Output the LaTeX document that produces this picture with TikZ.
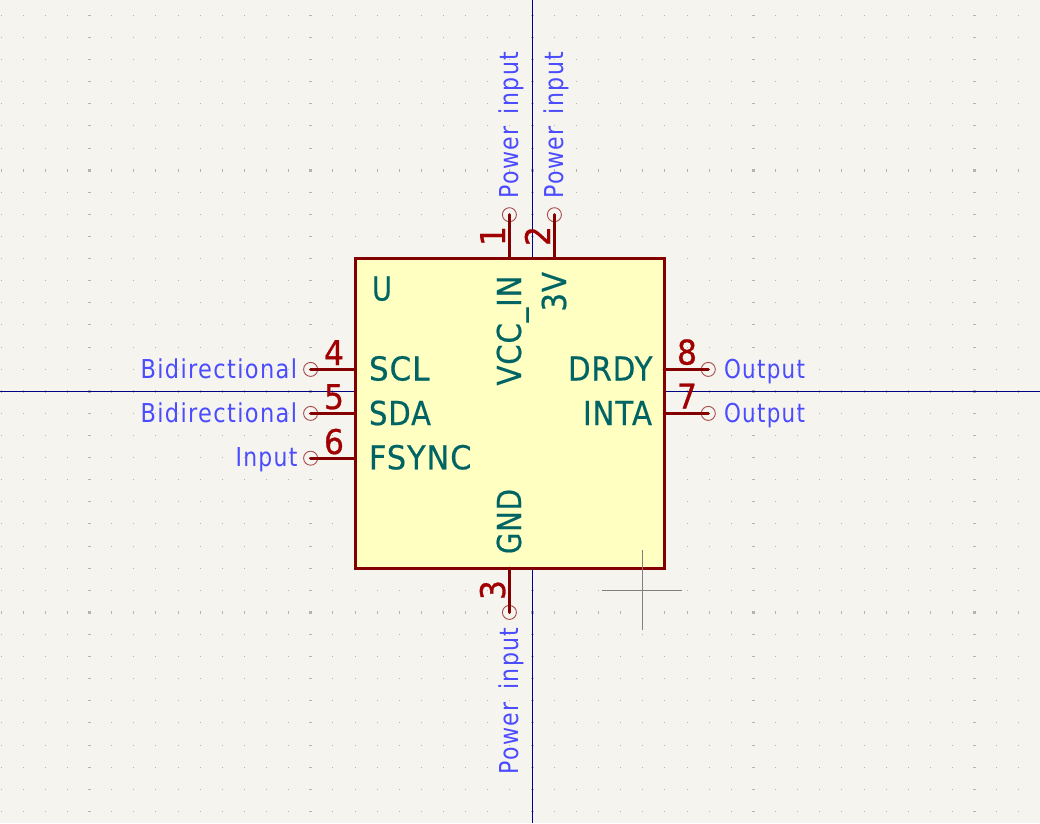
\documentclass[tikz,border=0pt]{standalone}
\usepackage{fontspec}
\usepackage{graphicx}
\setmainfont{DejaVu Sans}
\newfontfamily\symf{DejaVu Sans}[FakeBold=0.5,LetterSpace=3]
\newfontfamily\typf{DejaVu Sans}[LetterSpace=6,WordSpace=1.5]
\newfontfamily\numf{DejaVu Sans}[FakeBold=0.8]
\definecolor{bgc}{HTML}{F5F4EF}
\definecolor{gridc}{HTML}{B4B4B0}
\definecolor{bodyline}{HTML}{840000}
\definecolor{bodyfill}{HTML}{FFFFC2}
\definecolor{pinnum}{HTML}{A00000}
\definecolor{pinring}{HTML}{A94B4B}
\definecolor{teal}{HTML}{006464}
\definecolor{bluelabel}{HTML}{4B4BFF}
\definecolor{axisv}{HTML}{0000A0}
\definecolor{axish}{HTML}{000080}
\definecolor{crossc}{HTML}{808080}
% fit text to a given width, keeping its height
\newcommand\fitw[2]{\setbox0\hbox{#2}\pgfmathsetmacro\fitratio{#1/\the\wd0}\scalebox{\fitratio}[1]{\box0}}
\tikzset{
  x=1pt,y=-1pt,
  txt/.style={inner sep=0pt,outer sep=0pt,anchor=base west},
  sym/.style={txt,text=teal,font=\symf\fontsize{33}{33}\selectfont},
  typ/.style={txt,text=bluelabel,font=\typf\fontsize{26}{26}\selectfont},
  num/.style={txt,text=pinnum,font=\numf\fontsize{34}{34}\selectfont},
  up/.style={rotate=90},
  ring/.style={circle,draw=pinring,line width=0.9pt,minimum size=14pt,inner sep=0pt,outer sep=0pt},
  pinline/.style={draw=bodyline,line width=3.4pt,line cap=round},
  body/.style={rectangle,draw=bodyline,fill=bodyfill,line width=3.4pt,inner sep=0pt,outer sep=0pt,minimum width=309pt,minimum height=310pt},
}
\begin{document}
\begin{tikzpicture}
\useasboundingbox (0,0) rectangle (1040,823);
\fill[bgc] (0,0) rectangle (1040,823);
% grid
\foreach \i in {0,...,46}{
  \pgfmathsetmacro\gx{floor(1+22.13*\i)+0.5}
  \pgfmathsetmacro\wx{mod(\i,10)==4 ? 1.5 : 0.5}
  \foreach \j in {0,...,36}{
    \pgfmathsetmacro\gy{floor(15.4+22.11*\j)+0.5}
    \pgfmathsetmacro\wy{mod(\j,10)==7 ? 1.5 : 0.5}
    \fill[gridc] (\gx-\wx,\gy-\wy) rectangle (\gx+\wx,\gy+\wy);
  }
}
% axes
\coordinate (axT) at (532.5,0);
\coordinate (axB) at (532.5,823);
\coordinate (axL) at (0,391.5);
\coordinate (axR) at (1040,391.5);
\draw[axisv,line width=1pt] (axT) -- (axB);
\draw[axish,line width=1pt] (axL) -- (axR);
% pin end rings
\node[ring] (p1) at (509.4,214.7) {};
\node[ring] (p2) at (554.4,214.7) {};
\node[ring] (p3) at (509.4,612.4) {};
\node[ring] (p4) at (310.6,369.4) {};
\node[ring] (p5) at (310.6,413.4) {};
\node[ring] (p6) at (310.6,458.2) {};
\node[ring] (p8) at (708.3,369.4) {};
\node[ring] (p7) at (708.3,413.4) {};
% body
\node[body] (U) at (509.8,413.3) {};
% pin lines
\draw[pinline] (p1.center) -- (p1.center |- U.north);
\draw[pinline] (p2.center) -- (p2.center |- U.north);
\draw[pinline] (p3.center) -- (p3.center |- U.south);
\draw[pinline] (p4.center) -- (p4.center -| U.west);
\draw[pinline] (p5.center) -- (p5.center -| U.west);
\draw[pinline] (p6.center) -- (p6.center -| U.west);
\draw[pinline] (p8.center) -- (p8.center -| U.east);
\draw[pinline] (p7.center) -- (p7.center -| U.east);
% symbol texts
\node[sym] (tU) at (372,300.5) {\fitw{20}{U}};
\node[sym] (tSCL) at (369,380.5) {\fitw{60.5}{SCL}};
\node[sym] (tSDA) at (369,425) {\fitw{62}{SDA}};
\node[sym] (tFS) at (369,469.3) {\fitw{102.5}{FSYNC}};
\node[sym] (tDR) at (568,380.5) {\fitw{84.5}{DRDY}};
\node[sym] (tIN) at (583,425) {\fitw{69}{INTA}};
\node[sym,up] (tVCC) at (521,385.5) {\fitw{110}{VCC\_IN}};
\node[sym,up] (t3V) at (566,311.5) {\fitw{39.5}{3V}};
\node[sym,up] (tGND) at (521,554) {\fitw{65}{GND}};
% electrical types
\node[typ] (b4) at (140.5,378.4) {\fitw{156.5}{Bidirectional}};
\node[typ] (b5) at (140.5,422) {\fitw{156.5}{Bidirectional}};
\node[typ] (i6) at (235.5,466.4) {\fitw{62}{Input}};
\node[typ] (o8) at (724,378.2) {\fitw{81}{Output}};
\node[typ] (o7) at (724,422.4) {\fitw{81}{Output}};
\node[typ,up] (y1) at (518.4,198.5) {\fitw{146.5}{Power input}};
\node[typ,up] (y2) at (563,198.5) {\fitw{146.5}{Power input}};
\node[typ,up] (y3) at (518.4,774) {\fitw{146.5}{Power input}};
% pin numbers
\node[num] (n4) at (324,365) {\fitw{20}{4}};
\node[num] (n5) at (324,409) {\fitw{20}{5}};
\node[num] (n6) at (324,454) {\fitw{20}{6}};
\node[num] (n8) at (677,364.5) {\fitw{20}{8}};
\node[num] (n7) at (677,408.5) {\fitw{20}{7}};
\node[num,up] (n1) at (505,246) {\fitw{20}{1}};
\node[num,up] (n2) at (550,246) {\fitw{20}{2}};
\node[num,up] (n3) at (505,600) {\fitw{20}{3}};
% cursor
\coordinate (cL) at (602,590.5);
\coordinate (cR) at (682,590.5);
\coordinate (cT) at (642.5,550);
\coordinate (cB) at (642.5,630);
\draw[crossc,line width=1pt] (cL) -- (cR);
\draw[crossc,line width=1pt] (cT) -- (cB);
\end{tikzpicture}
\end{document}
